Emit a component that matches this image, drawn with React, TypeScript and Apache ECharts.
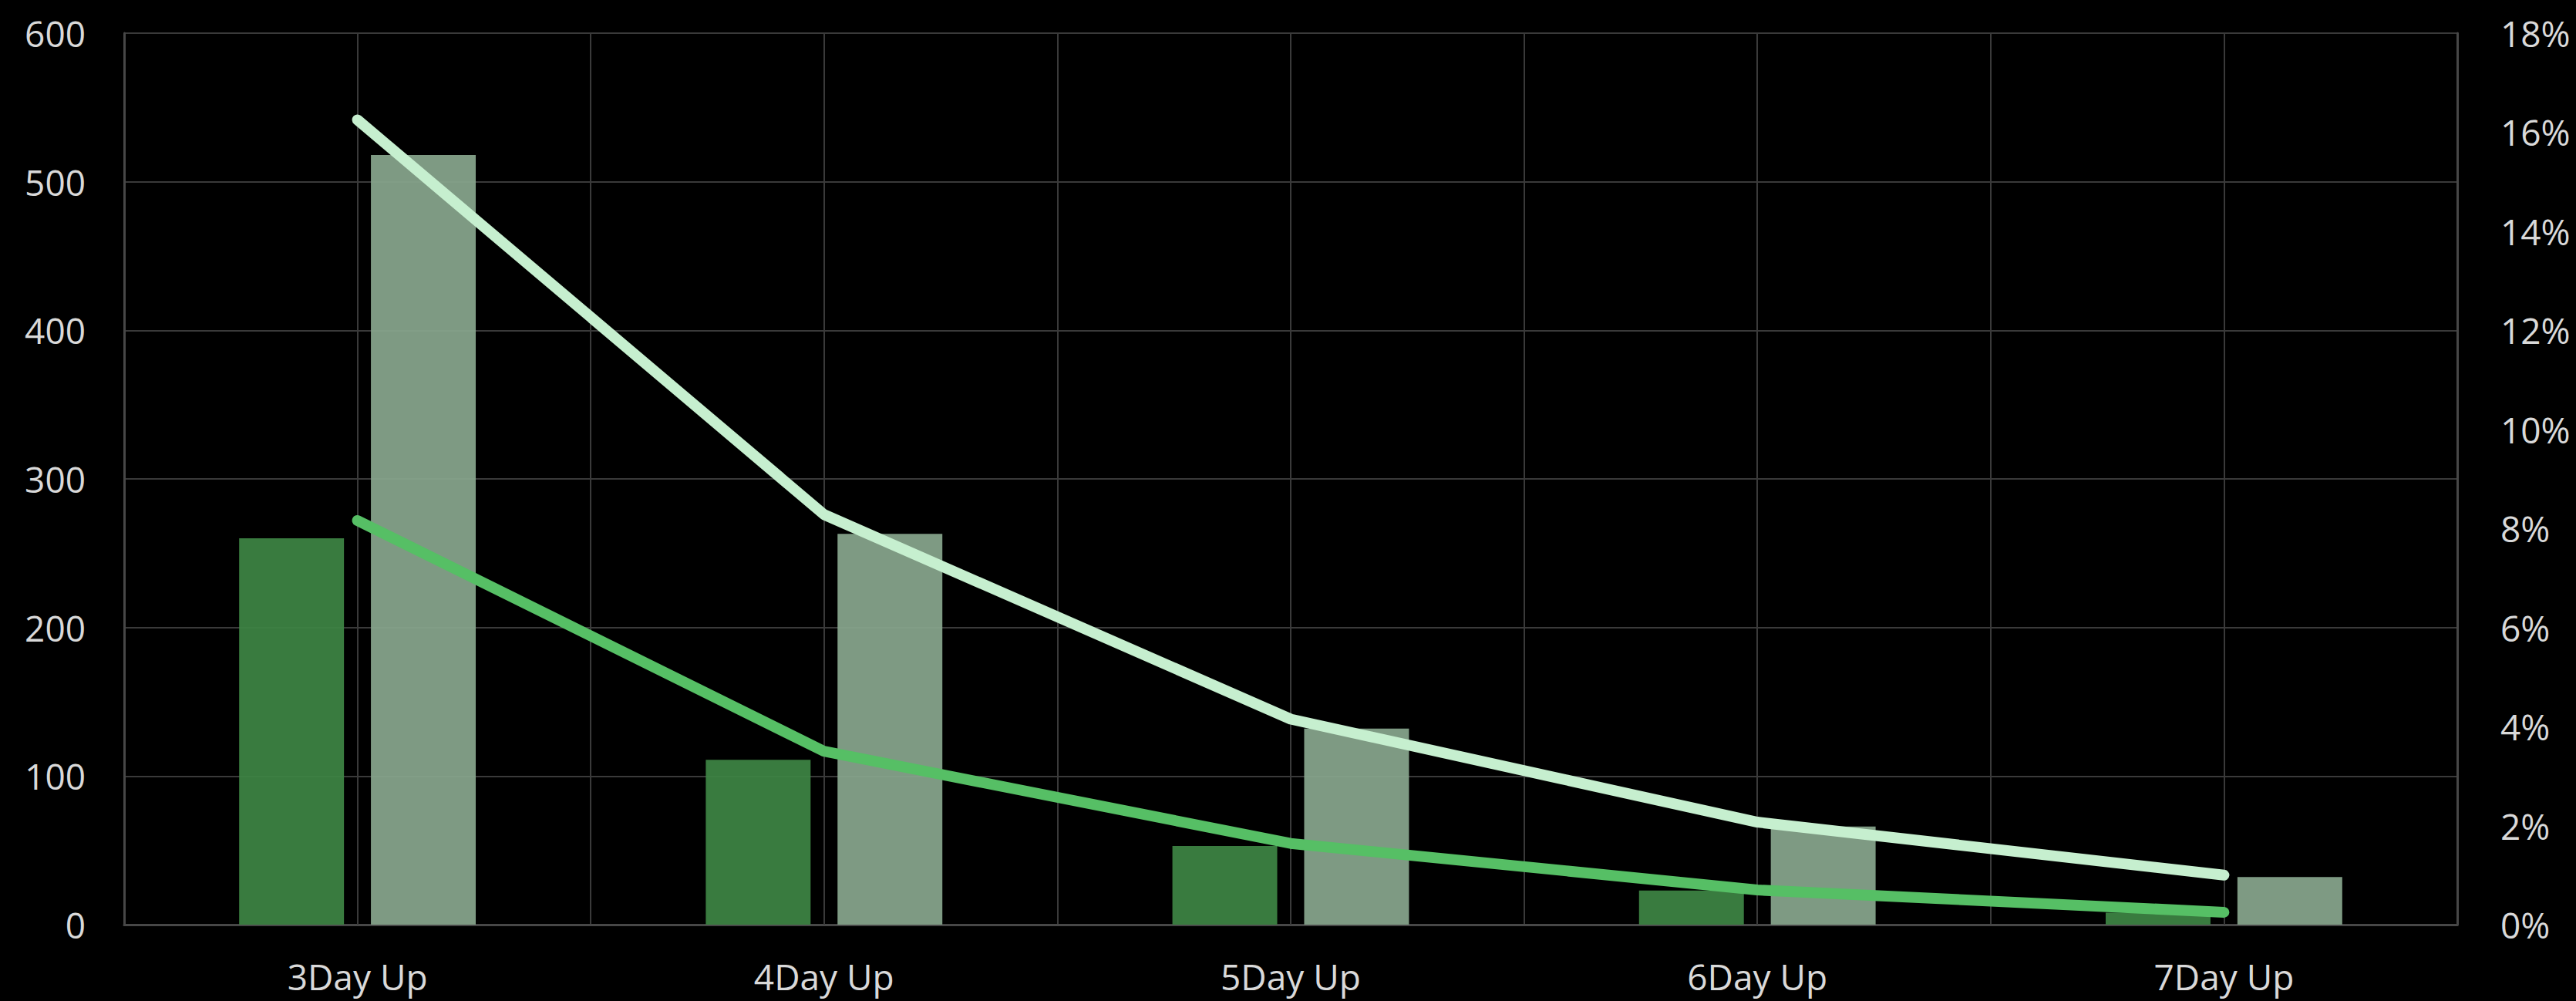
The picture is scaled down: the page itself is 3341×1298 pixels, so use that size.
import React, { useEffect, useRef } from "react";
import * as echarts from "echarts";

// Streak categories along the x axis
const categories = ["3Day Up", "4Day Up", "5Day Up", "6Day Up", "7Day Up"];

// Counts (left axis)
const darkBarValues = [260, 111, 53, 23, 8];
const lightBarValues = [518, 263, 132, 66, 32];

// Shares (right axis, fractions)
const darkLineValues = [0.0816, 0.035, 0.0164, 0.007, 0.0025];
const lightLineValues = [0.1625, 0.0828, 0.0415, 0.0207, 0.01];

// Axis ticks
const leftTicks = { min: 0, max: 600, interval: 100 };
const rightTicks = { min: 0, max: 0.18, interval: 0.02 };

const FONT = "'Open Sans', 'Noto Sans', sans-serif";
const TEXT_COLOR = "#d9d9d9";
const GRID_COLOR = "#3a3a3a";
const AXIS_COLOR = "#474747";

export default function App() {
  const ref = useRef<HTMLDivElement>(null);

  useEffect(() => {
    if (!ref.current) return;
    const chart = echarts.init(ref.current, undefined, { renderer: "svg" });

    const option = {
      animation: false,
      backgroundColor: "#000000",
      grid: { left: 161, right: 154, top: 43, bottom: 99, containLabel: false },
      xAxis: {
        type: "category",
        data: categories,
        boundaryGap: true,
        axisLine: { show: true, lineStyle: { color: AXIS_COLOR, width: 3 } },
        axisTick: { show: false },
        axisLabel: {
          color: TEXT_COLOR,
          fontFamily: FONT,
          fontSize: 46,
          margin: 44,
        },
        splitLine: { show: true, lineStyle: { color: GRID_COLOR, width: 2 } },
      },
      yAxis: [
        {
          type: "value",
          min: leftTicks.min,
          max: leftTicks.max,
          interval: leftTicks.interval,
          position: "left",
          axisLine: { show: true, lineStyle: { color: AXIS_COLOR, width: 3 } },
          axisTick: { show: false },
          axisLabel: {
            color: TEXT_COLOR,
            fontFamily: FONT,
            fontSize: 46,
            margin: 50,
          },
          splitLine: { show: true, lineStyle: { color: GRID_COLOR, width: 2 } },
        },
        {
          type: "value",
          min: rightTicks.min,
          max: rightTicks.max,
          interval: rightTicks.interval,
          position: "right",
          axisLine: { show: true, lineStyle: { color: AXIS_COLOR, width: 3 } },
          axisTick: { show: false },
          axisLabel: {
            color: TEXT_COLOR,
            fontFamily: FONT,
            fontSize: 46,
            margin: 56,
            formatter: (v: number) => `${Math.round(v * 100)}%`,
          },
          splitLine: { show: false },
        },
      ],
      series: [
        {
          // vertical guide lines through each category centre
          name: "centre guides",
          type: "line",
          yAxisIndex: 0,
          data: [],
          silent: true,
          z: 1,
          markLine: {
            silent: true,
            symbol: "none",
            label: { show: false },
            lineStyle: { color: GRID_COLOR, width: 2, type: "solid" },
            data: categories.map((c) => ({ xAxis: c })),
          },
        },
        {
          name: "Count (dark)",
          type: "bar",
          yAxisIndex: 0,
          data: darkBarValues,
          barGap: "25.7%",
          barCategoryGap: "49.3%",
          itemStyle: { color: "#3e8544", opacity: 0.92 },
        },
        {
          name: "Count (light)",
          type: "bar",
          yAxisIndex: 0,
          data: lightBarValues,
          itemStyle: { color: "#89a78e", opacity: 0.92 },
        },
        {
          name: "Share (dark)",
          type: "line",
          yAxisIndex: 1,
          data: darkLineValues,
          showSymbol: false,
          symbol: "none",
          lineStyle: { color: "#56bf65", width: 14, cap: "round", join: "round" },
          z: 5,
        },
        {
          name: "Share (light)",
          type: "line",
          yAxisIndex: 1,
          data: lightLineValues,
          showSymbol: false,
          symbol: "none",
          lineStyle: { color: "#c6efcf", width: 14, cap: "round", join: "round" },
          z: 5,
        },
      ],
    };

    chart.setOption(option as any);
    return () => chart.dispose();
  }, []);

  return (
    <div
      ref={ref}
      style={{
        position: "absolute",
        left: 0,
        top: 0,
        width: 3341,
        height: 1298,
        background: "#000000",
      }}
    />
  );
}
